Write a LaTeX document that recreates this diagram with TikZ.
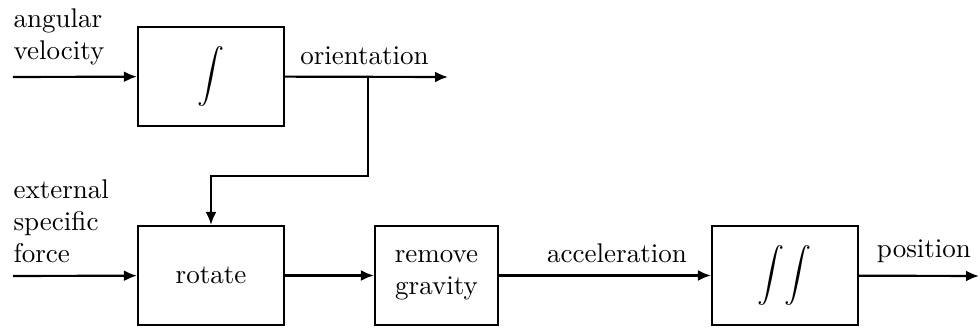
\documentclass[tikz,border=0pt]{standalone}
\usetikzlibrary{arrows.meta}
\begin{document}
\begin{tikzpicture}[x=0.37pt,y=-0.37pt,
  blk/.style={draw,line width=0.8pt,inner sep=0pt,minimum height=36.6pt},
  conn/.style={line width=0.8pt,-{Latex[length=4.8pt,width=4pt]}},
  lbl/.style={inner sep=0pt,anchor=south},
  side/.style={inner sep=0pt,align=left,anchor=base west,font=\normalsize}]
\useasboundingbox (0,0) rectangle (980,329);
\node[blk,minimum width=54pt] (int1) at (211,76.5) {{\fontsize{11}{13}\selectfont$\displaystyle\int$}};
\node[blk,minimum width=54pt] (rot) at (211,275.5) {rotate};
\node[blk,minimum width=45.5pt,align=center] (grav) at (436.5,275.5) {remove\\gravity};
\node[blk,minimum width=54pt] (dint) at (785,275.5) {{\fontsize{11}{13}\selectfont$\displaystyle\int\mkern-3mu\int$}};
\coordinate (in1) at (13,77);
\coordinate (out1) at (448,77);
\coordinate (br) at (368,77);
\coordinate (bend) at (368,176);
\coordinate (in2) at (13,276);
\coordinate (out2) at (979,276);
\node[side] (lav) at (13,60) {angular\\velocity};
\node[side] (lesf) at (13,263) {external\\specific\\force};
\node[lbl] (lor) at (364.5,65) {orientation};
\node[lbl] (lacc) at (617,263) {acceleration};
\node[lbl] (lpos) at (924,263) {position};
\draw[conn] (in1) -- (int1);
\draw[conn] (int1) -- (out1);
\draw[conn] (br) -- (bend) -| (rot.north);
\draw[conn] (in2) -- (rot);
\draw[conn] (rot) -- (grav);
\draw[conn] (grav) -- (dint);
\draw[conn] (dint) -- (out2);
\end{tikzpicture}
\end{document}
